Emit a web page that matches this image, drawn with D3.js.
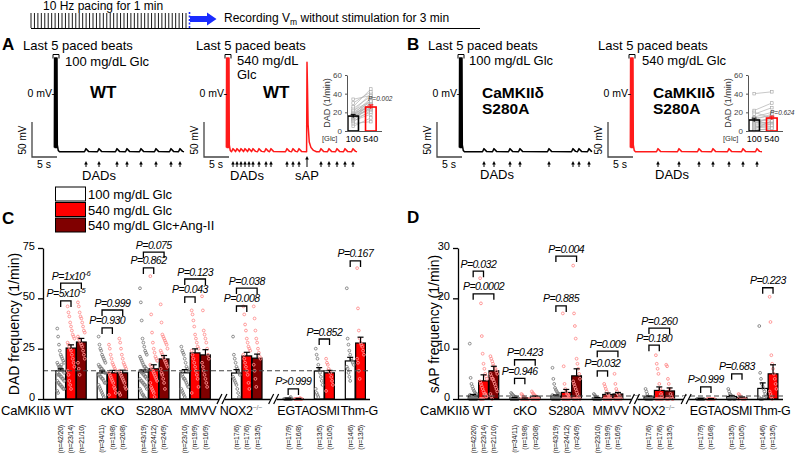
<!DOCTYPE html>
<html><head><meta charset="utf-8">
<script src="https://cdn.jsdelivr.net/npm/d3@7"></script>
<style>body{margin:0;background:#fff} svg{font-family:"Liberation Sans",Arial,sans-serif}</style>
</head><body><svg id="c" width="800" height="453"></svg>
<script>
// ---------------- DATA ----------------
const groups = ["CaMKIIδ WT","cKO","S280A","MMVV","NOX2","EGTA","OSMI","Thm-G"];
const barsPerGroup = [3,3,3,3,3,2,2,2];
const breaksAfter = ["MMVV","NOX2"];
const conditions = ["100 mg/dL Glc","540 mg/dL Glc","540 mg/dL Glc+Ang-II"];
const nLabels = [
 ["(n=42/20)","(n=23/14)","(n=21/10)"],
 ["(n=34/11)","(n=19/8)","(n=20/8)"],
 ["(n=43/19)","(n=24/12)","(n=24/9)"],
 ["(n=23/10)","(n=19/9)","(n=16/9)"],
 ["(n=17/6)","(n=17/6)","(n=13/5)"],
 ["(n=17/9)","(n=16/8)"],
 ["(n=13/5)","(n=10/5)"],
 ["(n=14/6)","(n=13/5)"]];
const dadTicks = [0,25,50,75];
const sapTicks = [0,10,20,30];
const dadMean = [[14,25.3,28.3],[12.9,13,13],[13.4,15,19.9],[13,22.9,21.9],[12.9,21.4,20.3],[0.3,0.2],[13.9,13],[18.9,27.8]];
const dadSem  = [[1,1.6,1.8],[1,1.2,1.3],[1,2,1.7],[1.6,2,2.6],[1.7,1.8,2],[0.1,0.1],[1.7,1.2],[1.8,2.9]];
const sapMean = [[0.6,3.6,5.6],[0.2,0.1,0.4],[0.6,1.3,4.6],[0.2,0.9,1],[0.4,1.7,1.6],[0.05,0.05],[0.5,0.3],[2.1,5]];
const sapSem  = [[0.3,1.2,0.9],[0.1,0.1,0.2],[0.2,0.6,1.4],[0.1,0.3,0.3],[0.2,0.7,0.6],[0.03,0.03],[0.2,0.1],[1.1,1.8]];
const dadThreshold = 14;
const sapThreshold = 0.6;

const dadWT = [
 [35,31,27,24,22,21,20,19,18,18,17,16,16,15,15,14,14,13,13,12,12,12,11,11,10,10,9,9,8,8,7,7,6,6,5,5,4,3,14,15,16,17],
 [46,43,41,38,36,34,32,31,30,28,27,26,25,24,22,20,18,16,14,12,9,7,5],
 [48,46,43,41,40,38,36,34,33,31,30,29,28,27,26,24,22,20,18,15,12]];
const dadCKO = [
 [31,27,25,24,22,21,20,19,18,17,16,16,15,15,14,14,13,13,12,12,11,11,10,10,9,8,8,7,6,5,4,3,2,1],
 [27,25,22,20,18,17,16,15,14,13,12,11,10,9,8,6,5,3,2],
 [30,28,25,22,20,18,17,16,15,14,13,12,11,10,9,8,6,5,3,2]];
const dadS280A = [
 [55,48,39,30,28,26,24,23,22,21,20,19,18,17,16,16,15,15,14,14,13,13,12,12,11,11,10,10,9,9,8,8,7,7,6,5,5,4,3,2,2,1,0.5],
 [61,42,33,28,25,23,21,20,19,17,16,15,14,13,12,11,10,9,8,6,5,4,3,1],
 [47,38,32,31,30,29,28,27,25,24,23,22,21,20,19,18,17,16,15,13,12,10,8,5]];
const dadMMVV = [
 [26,24,23,22,20,18,16,15,14,13,12,11,10,10,9,8,7,6,5,4,3,2,1],
 [44,42,39,36,32,30,28,26,25,24,22,20,18,16,14,12,10,6,3],
 [51,44,34,32,30,28,25,22,20,18,16,14,12,10,8,6]];
const dadNOX2 = [
 [31,22,20,18,16,15,14,13,12,11,10,9,8,7,5,3,1],
 [46,42,37,34,30,28,26,25,24,22,20,18,16,14,12,8,5],
 [46,40,34,30,28,25,23,21,20,17,14,10,6]];
const dadEGTA = [[0,0,0,0,0,0,0,0,0,0,0,0,0,0,0,0.5,1],[0,0,0,0,0,0,0,0,0,0,0,0,0,0,0,0.5]];
const dadOSMI = [[25,22,20,17,15,13,11,9,7,5,3,2,1],[20,18,17,15,14,13,11,9,7,4]];
const dadThmG = [[55,30,27,24,22,20,19,18,17,16,15,13,11,9],[65,45,34,30,28,27,26,24,22,20,18,14,10]];

const sapWT = [
 [11,4.2,3,2.5,2,1.6,1.3,1,1,0.8,0.7,0.5,0.5,0.4,0.3,0.3,0.2,0.2,0.1,0.1,0,0,0,0,0,0,0,0,0,0,0,0,0,0,0,0,0,0,0,0,0,0],
 [24,19,12.5,9,7,6,5,4.5,4,3.5,3,2.5,2,1.5,1,1,0.5,0.5,0,0,0,0,0],
 [8.5,8,7.5,7,6.5,6,6,5.5,5,5,4.5,4,4,3.5,3,2.5,2,1.5,1,0.5,0]];
const sapCKO = [
 [1.2,1,0.8,0.6,0.5,0.4,0.3,0.2,0.2,0.1,0,0,0,0,0,0,0,0,0,0,0,0,0,0,0,0,0,0,0,0,0,0,0,0],
 [1,0.8,0.5,0.3,0.2,0,0,0,0,0,0,0,0,0,0,0,0,0,0],
 [1.5,1.2,1,0.8,0.6,0.5,0.3,0.2,0,0,0,0,0,0,0,0,0,0,0,0]];
const sapS280A = [
 [6.2,4,3,2.2,1.8,1.5,1.2,1,1,0.8,0.6,0.5,0.4,0.3,0.2,0.1,0,0,0,0,0,0,0,0,0,0,0,0,0,0,0,0,0,0,0,0,0,0,0,0,0,0,0],
 [17,6.5,3,2,1.5,1,0.8,0.5,0.3,0,0,0,0,0,0,0,0,0,0,0,0,0,0,0],
 [26.5,17,14.5,12,8,7,6,5,4,3.5,3,2.5,2,1.5,1,0.5,0.3,0,0,0,0,0,0,0]];
const sapMMVV = [
 [1,0.8,0.5,0.3,0.2,0,0,0,0,0,0,0,0,0,0,0,0,0,0,0,0,0,0],
 [3,2.5,2,1.5,1,0.8,0.5,0.3,0,0,0,0,0,0,0,0,0,0,0],
 [5,3,2,1.5,1,0.8,0.5,0.3,0,0,0,0,0,0,0,0]];
const sapNOX2 = [
 [2,1.5,1,0.5,0.3,0,0,0,0,0,0,0,0,0,0,0,0],
 [8.7,7,6,5,3,2,1,0.5,0,0,0,0,0,0,0,0,0],
 [6.8,6.5,4,3,2,1,0.5,0,0,0,0,0,0]];
const sapEGTA = [[0,0,0,0,0,0,0,0,0,0,0,0,0,0,0,0,0],[0,0,0,0,0,0,0,0,0,0,0,0,0,0,0,0]];
const sapOSMI = [[2,1.5,1,0.8,0.5,0.3,0,0,0,0,0,0,0],[1,0.8,0.5,0.3,0,0,0,0,0,0]];
const sapThmG = [[14.5,5.2,4,3,2.5,2,1.5,1,0.5,0.3,0,0,0,0],[20.3,15.3,8.7,7,6,5,4,3,2,1.5,1,0.5,0]];

// [group, barA, barB, bracket value, label]
const dadP = [
 [0,0,1,48.7,"P=5x10^-5"],[0,0,2,57.6,"P=1x10^-6"],
 [1,0,1,35.3,"P=0.930"],[1,0,2,44.2,"P=0.999"],
 [2,0,1,65.1,"P=0.862"],[2,0,2,73.0,"P=0.075"],
 [3,0,1,50.7,"P=0.043"],[3,0,2,59.6,"P=0.123"],
 [4,0,1,46.2,"P=0.008"],[4,0,2,55.1,"P=0.038"],
 [5,0,1,5.0,"P>0.999"],[6,0,1,29.8,"P=0.852"],[7,0,1,68.6,"P=0.167"]];
const sapP = [
 [0,0,1,25.4,"P=0.032"],[0,0,2,20.9,"P=0.0002"],
 [1,0,1,4.1,"P=0.946"],[1,0,2,7.8,"P=0.423"],
 [2,0,1,18.5,"P=0.885"],[2,0,2,28.4,"P=0.004"],
 [3,0,1,5.6,"P=0.032"],[3,0,2,9.5,"P=0.009"],
 [4,0,1,10.7,"P=0.180"],[4,0,2,14.1,"P=0.260"],
 [5,0,1,2.4,"P>0.999"],[6,0,1,5.0,"P=0.683"],[7,0,1,22.1,"P=0.223"]];

// traces (seconds after last paced beat)
const dadTimesA100 = [5.8,8.4,12,14,16.8,19.8,22.8,24.6];
const dadTimesA540 = [0.8,1.6,2.4,3.2,4,4.8,6,7.4,8.4,11.6,12.8,14,18.4,20,21.6,23.2,24.8];
const sapTimesA540 = [15.6];
const dadTimesB100 = [4.4,6.4,9.6,11.6,17.4,22.2,23.4,25.4];
const dadTimesB540 = [5,9.2,13.2,16,19.2,22,24.8];
const pacedBeats = [-0.48,-0.36,-0.24,-0.12,0];

// insets (DAD 1/min, paired cells)
const insetA100 = [5,8,10,11,12,13,14,14,15,15,16,16,17,18,18,19,20,21,22,24,26,30,34];
const insetA540 = [14,10,22,18,26,20,25,30,23,28,24,33,27,29,35,26,31,40,32,37,45,42,38];
const insetB100 = [40,22,20,18,15,14,12,11,10,9,8,7,6,5,4,3,2,1,0.5,12];
const insetB540 = [42,30,14,25,20,16,18,13,12,9,15,10,8,4,7,5,11,2,3,6];
const insetAMean = [16,25.7], insetASem = [1.8,2.3];
const insetBMean = [11.8,13.9], insetBSem = [2,2];
const insetTicks = [0,20,40,60];
const pacingStimuli = 46;

// ---------------- DRAW ----------------
const svg = d3.select("#c");
const colors = ["#ffffff","#ff0000","#800000"];
const ptStroke = ["#808080","#ff8f8f","#ff8f8f"];

function supText(sel, label){
  const parts = label.split("^");
  sel.append("tspan").text(parts[0]);
  if(parts[1]) sel.append("tspan").attr("dy",-4).attr("font-size","0.72em").text(parts[1]);
}

(function(){
  const g = svg.append("g");
  g.append("text").attr("x",43).attr("y",10).attr("font-size",12).text("10 Hz pacing for 1 min");
  const xs = d3.scaleLinear().domain([0,pacingStimuli-1]).range([31,186]);
  g.selectAll("line.st").data(d3.range(pacingStimuli)).join("line")
    .attr("x1",d=>xs(d)).attr("x2",d=>xs(d)).attr("y1",13).attr("y2",28).attr("stroke","#000").attr("stroke-width",0.9);
  g.append("line").attr("x1",31).attr("x2",480).attr("y1",28.5).attr("y2",28.5).attr("stroke","#000").attr("stroke-width",1.2);
  g.append("line").attr("x1",189.5).attr("x2",189.5).attr("y1",12).attr("y2",29).attr("stroke","#1a2cff").attr("stroke-width",1.6).attr("stroke-dasharray","2,1.5");
  g.append("polygon").attr("points","190,16 207,16 207,12.5 216.5,19 207,25.5 207,22 190,22").attr("fill","#1a2cff");
  const t = g.append("text").attr("x",224).attr("y",22).attr("font-size",12);
  t.append("tspan").text("Recording V");
  t.append("tspan").attr("dy",3).attr("font-size",8.5).text("m");
  t.append("tspan").attr("dy",-3).text(" without stimulation for 3 min");
})();

function drawTrace(cfg){
  const {spikeX, color, dads, saps, tEnd} = cfg;
  const x = d3.scaleLinear().domain([0,5]).range([spikeX, spikeX+25]);
  const y = d3.scaleLinear().domain([0,-50]).range([93,128]);
  const rest = -84;
  const pts = [];
  pacedBeats.forEach(o=>{ pts.push([o-0.05,rest+6],[o,50],[o+0.06,rest+10]); });
  pts.push([0.25,rest+2],[0.5,rest]);
  const ev = dads.map(t=>({t,s:false})).concat((saps||[]).map(t=>({t,s:true}))).sort((a,b)=>a.t-b.t);
  ev.forEach(e=>{
    if(!e.s) pts.push([e.t-0.3,rest],[e.t,rest+4.5],[e.t+0.5,rest+0.6]);
    else pts.push([e.t-0.08,rest],[e.t,44],[e.t+0.1,8],[e.t+0.22,-45],[e.t+0.45,-70],[e.t+0.8,-78],[e.t+1.3,-82],[e.t+1.9,rest]);
  });
  pts.push([tEnd,rest]);
  const g = svg.append("g");
  g.append("path").attr("d",d3.line().x(d=>x(d[0])).y(d=>y(d[1]))(pts))
    .attr("fill","none").attr("stroke",color).attr("stroke-width",1.5).attr("stroke-linejoin","round");
  g.append("path").attr("d",`M${spikeX-4},58.5V54.5H${spikeX+2}V58.5`).attr("fill","none").attr("stroke","#000").attr("stroke-width",1);
  g.append("text").attr("x",spikeX-2).attr("y",96.5).attr("text-anchor","end").attr("font-size",10.5).text("0 mV-");
  const sb = spikeX-25;
  g.append("path").attr("d",`M${sb},122V157H${spikeX}`).attr("fill","none").attr("stroke","#444").attr("stroke-width",1.3);
  g.append("text").attr("transform",`translate(${sb-6},140) rotate(-90)`).attr("text-anchor","middle").attr("font-size",10).text("50 mV");
  g.append("text").attr("x",sb+12).attr("y",168).attr("text-anchor","middle").attr("font-size",10.5).text("5 s");
  const arrow = (t,top)=>{
    const xx = x(t);
    g.append("line").attr("x1",xx).attr("x2",xx).attr("y1",167).attr("y2",top+2).attr("stroke","#000").attr("stroke-width",1);
    g.append("path").attr("d",`M${xx-1.8},${top+3.5}L${xx},${top}L${xx+1.8},${top+3.5}Z`).attr("fill","#000");
  };
  dads.forEach(t=>arrow(t,161));
  (saps||[]).forEach(t=>arrow(t,156));
  return {g,x};
}

function traceText(g, items){
  items.forEach(it=>{
    g.append("text").attr("x",it.x).attr("y",it.y).attr("font-size",it.size||13)
      .attr("font-weight",it.bold?"bold":null).attr("text-anchor",it.anchor||"start").text(it.t);
  });
}

let tr = drawTrace({spikeX:57, color:"#000", dads:dadTimesA100, tEnd:25.4});
traceText(tr.g,[{x:23,y:50,t:"Last 5 paced beats"},{x:65,y:65.5,t:"100 mg/dL Glc"},{x:90,y:98,t:"WT",bold:true,size:17},{x:82,y:180,t:"DADs"}]);
tr = drawTrace({spikeX:229, color:"#ff1a1a", dads:dadTimesA540, saps:sapTimesA540, tEnd:25.6});
traceText(tr.g,[{x:196,y:50,t:"Last 5 paced beats"},{x:237,y:64.5,t:"540 mg/dL"},{x:237,y:79,t:"Glc"},{x:263,y:98,t:"WT",bold:true,size:17},{x:230,y:180,t:"DADs"},{x:tr.x(sapTimesA540[0]),y:180,t:"sAP",anchor:"middle"}]);
tr = drawTrace({spikeX:462, color:"#000", dads:dadTimesB100, tEnd:25.8});
traceText(tr.g,[{x:428,y:50,t:"Last 5 paced beats"},{x:469,y:65,t:"100 mg/dL Glc"},{x:482,y:97.5,t:"CaMKIIδ",bold:true,size:15.5},{x:482,y:114,t:"S280A",bold:true,size:15.5},{x:480,y:179,t:"DADs"}]);
tr = drawTrace({spikeX:633, color:"#ff1a1a", dads:dadTimesB540, tEnd:25.8});
traceText(tr.g,[{x:598,y:50,t:"Last 5 paced beats"},{x:642,y:64.5,t:"540 mg/dL Glc"},{x:653,y:97.5,t:"CaMKIIδ",bold:true,size:15.5},{x:653,y:114,t:"S280A",bold:true,size:15.5},{x:655,y:179,t:"DADs"}]);

[["A",2,50],["B",407,50],["C",2,224],["D",407,223]].forEach(d=>{
  svg.append("text").attr("x",d[1]).attr("y",d[2]).attr("font-size",17).attr("font-weight","bold").text(d[0]);
});

function drawInset(ax, v100, v540, mean, sem, pLabel, pX, pY){
  const g = svg.append("g");
  const y = d3.scaleLinear().domain([0,60]).range([131,75]);
  const x = d3.scaleBand().domain(["100","540"]).range([ax, ax+30]).paddingInner(0.4).paddingOuter(0.05);
  const cx = k => x(k)+x.bandwidth()/2;
  v100.forEach((v,i)=>{
    g.append("line").attr("x1",cx("100")).attr("x2",cx("540")).attr("y1",y(v)).attr("y2",y(v540[i])).attr("stroke","#b0b0b0").attr("stroke-width",0.7);
  });
  [["100",v100],["540",v540]].forEach(([k,arr])=>{
    g.selectAll(null).data(arr).join("rect").attr("x",cx(k)-1.3).attr("y",d=>y(d)-1.3).attr("width",2.6).attr("height",2.6)
      .attr("fill","#fff").attr("stroke","#a0a0a0").attr("stroke-width",0.6);
  });
  const keys = ["100","540"], cols = ["#000","#ff0000"];
  keys.forEach((k,i)=>{
    g.append("rect").attr("x",x(k)).attr("y",y(mean[i])).attr("width",x.bandwidth()).attr("height",y(0)-y(mean[i]))
      .attr("fill","none").attr("stroke",cols[i]).attr("stroke-width",1.6);
    g.append("line").attr("x1",cx(k)).attr("x2",cx(k)).attr("y1",y(mean[i]-sem[i])).attr("y2",y(mean[i]+sem[i])).attr("stroke",cols[i]).attr("stroke-width",1);
    g.append("line").attr("x1",cx(k)-2.5).attr("x2",cx(k)+2.5).attr("y1",y(mean[i]+sem[i])).attr("y2",y(mean[i]+sem[i])).attr("stroke",cols[i]).attr("stroke-width",1);
  });
  const ya = g.append("g").attr("transform",`translate(${ax},0)`).call(d3.axisLeft(y).tickValues(insetTicks).tickSize(2).tickSizeOuter(0));
  ya.selectAll("text").attr("font-size",8).attr("fill","#444").attr("font-family","Liberation Sans, Arial");
  ya.selectAll("path,line").attr("stroke","#555");
  g.append("line").attr("x1",ax).attr("x2",ax+35).attr("y1",131.5).attr("y2",131.5).attr("stroke","#555");
  g.append("text").attr("transform",`translate(${ax-17},103) rotate(-90)`).attr("text-anchor","middle").attr("font-size",9).attr("fill","#333").text("DAD (1/min)");
  g.append("text").attr("x",ax-25).attr("y",141).attr("font-size",7.5).attr("fill","#333").text("[Glc]");
  keys.forEach(k=>g.append("text").attr("x",cx(k)).attr("y",141.5).attr("text-anchor","middle").attr("font-size",9).text(k));
  g.append("text").attr("x",pX).attr("y",pY).attr("font-size",6.5).attr("font-style","italic").attr("fill","#333").text(pLabel);
}
drawInset(347, insetA100, insetA540, insetAMean, insetASem, "P=0.002", 368, 100.5);
drawInset(748, insetB100, insetB540, insetBMean, insetBSem, "P=0.624", 770, 115);

conditions.forEach((c,i)=>{
  const yy = 187 + i*15.5;
  svg.append("rect").attr("x",55.5).attr("y",yy).attr("width",30).attr("height",14).attr("fill",colors[i]).attr("stroke","#000").attr("stroke-width",1);
  svg.append("text").attr("x",88).attr("y",yy+12).attr("font-size",13).text(c);
});

const slots = []; { let s=0; groups.forEach((g,gi)=>{ const a=[]; for(let k=0;k<barsPerGroup[gi];k++) a.push(s++); slots.push(a); s += breaksAfter.includes(g)?2:1; }); }
const labelShift = {"MMVV":3,"NOX2":-6,"Thm-G":4};

function drawPanel(cfg){
  const {x0, axisX, axisEnd, yMax, ticks, means, sems, pts, pvals, thr, ylabel, ylabelX, firstLabelX} = cfg;
  const g = svg.append("g");
  const bw = 10.34;
  const x = d3.scaleLinear().domain([0,28]).range([x0, x0+28*bw]);
  const y = d3.scaleLinear().domain([0,yMax]).range([399,248]);
  const cxs = (gi,b)=> x(slots[gi][b]) + bw/2;
  groups.forEach((gname,gi)=>{
    slots[gi].forEach((s,b)=>{
      g.append("rect").attr("x",x(s)+0.3).attr("y",y(means[gi][b])).attr("width",bw-0.6).attr("height",y(0)-y(means[gi][b]))
        .attr("fill",colors[b]).attr("stroke","#000").attr("stroke-width",1.2);
    });
  });
  groups.forEach((gname,gi)=>{
    pts[gi].forEach((arr,b)=>{
      const cx = cxs(gi,b);
      g.selectAll(null).data(arr).join("circle")
        .attr("cx",(d,i)=>cx + (((i*37)%9)-4)*0.85)
        .attr("cy",d=>y(d))
        .attr("r",1.4).attr("fill","none").attr("stroke",ptStroke[b]).attr("stroke-width",0.9);
    });
  });
  groups.forEach((gname,gi)=>{
    slots[gi].forEach((s,b)=>{
      const cx = cxs(gi,b), m = means[gi][b], e = sems[gi][b];
      g.append("line").attr("x1",cx).attr("x2",cx).attr("y1",y(m)).attr("y2",y(m+e)).attr("stroke","#000").attr("stroke-width",1.2);
      g.append("line").attr("x1",cx-3).attr("x2",cx+3).attr("y1",y(m+e)).attr("y2",y(m+e)).attr("stroke","#000").attr("stroke-width",1.2);
    });
  });
  g.append("line").attr("x1",axisX).attr("x2",axisEnd).attr("y1",y(thr)).attr("y2",y(thr))
    .attr("stroke","#444").attr("stroke-width",1.1).attr("stroke-dasharray","5,3");
  const ya = g.append("g").attr("transform",`translate(${axisX},0)`).call(d3.axisLeft(y).tickValues(ticks).tickSize(5).tickSizeOuter(0));
  ya.selectAll("path,line").attr("stroke","#000").attr("stroke-width",1.3);
  ya.selectAll("text").attr("font-size",11).attr("font-family","Liberation Sans, Arial").attr("fill","#000").attr("dy","0.15em");
  g.append("line").attr("x1",axisX).attr("x2",axisEnd).attr("y1",399.5).attr("y2",399.5).attr("stroke","#000").attr("stroke-width",1.5);
  [16,21].forEach(s=>{
    const bx = x(s)+1;
    g.append("rect").attr("x",bx-3).attr("y",396).attr("width",6).attr("height",7).attr("fill","#fff");
    [-2.5,2.5].forEach(o=>g.append("line").attr("x1",bx+o-2.5).attr("x2",bx+o+2.5).attr("y1",404).attr("y2",394).attr("stroke","#000").attr("stroke-width",1.2));
  });
  g.append("text").attr("transform",`translate(${ylabelX},324) rotate(-90)`).attr("text-anchor","middle").attr("font-size",14).text(ylabel);
  groups.forEach((gname,gi)=>{
    const s0 = slots[gi][0], s1 = slots[gi][slots[gi].length-1];
    const cx = (x(s0)+x(s1)+bw)/2 + (labelShift[gname]||0);
    if(gi===0){
      g.append("text").attr("x",firstLabelX).attr("y",414.5).attr("font-size",13).attr("letter-spacing",-0.2).text(gname);
    } else if(gname==="NOX2"){
      const t = g.append("text").attr("x",cx).attr("y",414.5).attr("font-size",12.5).attr("letter-spacing",-0.3).attr("text-anchor","middle");
      t.append("tspan").text("NOX2");
      t.append("tspan").attr("dy",-5).attr("font-size",7).attr("fill","#777").text("−/−");
    } else {
      g.append("text").attr("x",cx).attr("y",414.5).attr("font-size",12.5).attr("letter-spacing",-0.3).attr("text-anchor","middle").text(gname);
    }
    slots[gi].forEach((s,b)=>{
      g.append("text").attr("transform",`translate(${x(s)+bw/2+2.4},425) rotate(-90)`).attr("text-anchor","end")
        .attr("font-size",7).attr("letter-spacing",-0.2).attr("fill","#111").text(nLabels[gi][b]);
    });
  });
  pvals.forEach(([gi,a,b,v,lab])=>{
    const xa = cxs(gi,a), xb = cxs(gi,b), yy = y(v);
    g.append("path").attr("d",`M${xa},${yy+6}V${yy}H${xb}V${yy+6}`).attr("fill","none").attr("stroke","#000").attr("stroke-width",1.3);
    const t = g.append("text").attr("x",(xa+xb)/2).attr("y",yy-3.5).attr("text-anchor","middle").attr("font-size",10.5).attr("letter-spacing",-0.5).attr("font-style","italic");
    supText(t, lab);
  });
}

drawPanel({x0:55.5, axisX:43, axisEnd:370, yMax:75, ticks:dadTicks, means:dadMean, sems:dadSem,
  pts:[dadWT,dadCKO,dadS280A,dadMMVV,dadNOX2,dadEGTA,dadOSMI,dadThmG], pvals:dadP, thr:dadThreshold,
  ylabel:"DAD frequency (1/min)", ylabelX:19, firstLabelX:1});
drawPanel({x0:468, axisX:458, axisEnd:783, yMax:30, ticks:sapTicks, means:sapMean, sems:sapSem,
  pts:[sapWT,sapCKO,sapS280A,sapMMVV,sapNOX2,sapEGTA,sapOSMI,sapThmG], pvals:sapP, thr:sapThreshold,
  ylabel:"sAP frequency (1/min)", ylabelX:439, firstLabelX:420});
</script></body></html>
